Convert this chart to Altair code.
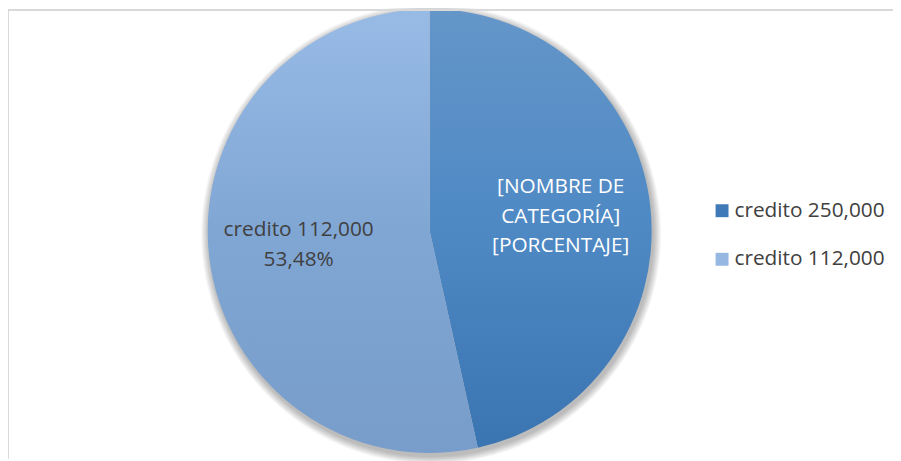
import math
import altair as alt
import pandas as pd

categories = ["credito 250,000", "credito 112,000"]
percentages = [46.52, 53.48]
labels = ["[NOMBRE DE\nCATEGORÍA]\n[PORCENTAJE]", "credito 112,000\n53,48%"]
order = [0, 1]

df = pd.DataFrame({"category": categories, "pct": percentages, "label": labels, "order": order})

W, H = 893, 453
CX, CY = 425.5, 223
R = 224
FONT = "Open Sans"
TEXT_GRAY = "#404040"
LINE_H = 30
legend_colors = ["#3f79b7", "#95b7e1"]

gradients = {
    "credito 250,000": alt.Gradient(
        gradient="linear", x1=0, x2=0, y1=0, y2=1,
        stops=[alt.GradientStop(color="#6496c9", offset=0),
               alt.GradientStop(color="#4e89c4", offset=0.5),
               alt.GradientStop(color="#3a75b2", offset=1)]),
    "credito 112,000": alt.Gradient(
        gradient="linear", x1=0, x2=0, y1=0, y2=1,
        stops=[alt.GradientStop(color="#98bbe6", offset=0),
               alt.GradientStop(color="#80a6d4", offset=0.5),
               alt.GradientStop(color="#789dcb", offset=1)]),
}
label_colors = {"credito 250,000": "#ffffff", "credito 112,000": TEXT_GRAY}

theta_scale = alt.Scale(domain=[0, 100], range=[0, 2 * math.pi])

base = (
    alt.Chart(df)
    .transform_window(end="sum(pct)", sort=[alt.SortField("order")], frame=[None, 0])
    .transform_calculate(start="datum.end - datum.pct")
    .transform_calculate(mid="(datum.start + datum.end) / 2")
)

layers = []

# soft shadow
for k in range(8, 0, -1):
    layers.append(
        base.transform_filter("datum.order == 0")
        .mark_arc(radius=R + k, color="#000000", opacity=0.035)
        .encode(
            theta=alt.value(0), theta2=alt.value(2 * math.pi),
            x=alt.value(CX + 1.5), y=alt.value(CY + 3),
        )
    )

for cat in categories:
    layers.append(
        base.transform_filter(alt.datum.category == cat)
        .mark_arc(radius=R, fill=gradients[cat], stroke=None)
        .encode(
            theta=alt.Theta("start:Q", scale=theta_scale),
            theta2="end:Q",
            x=alt.value(CX), y=alt.value(CY),
        )
    )

for cat, lab in zip(categories, labels):
    n_lines = lab.count("\n") + 1
    layers.append(
        base.transform_filter(alt.datum.category == cat)
        .mark_text(font=FONT, fontSize=21, lineHeight=LINE_H, lineBreak="\n",
                   color=label_colors[cat], align="center", baseline="middle", radius=133,
                   dy=-(n_lines - 1) * LINE_H / 2)
        .encode(
            theta=alt.Theta("mid:Q", scale=theta_scale),
            text="label:N",
            x=alt.value(CX), y=alt.value(CY),
        )
    )

# legend carrier
layers.append(
    base.mark_square(opacity=0, size=144)
    .encode(
        x=alt.value(-50), y=alt.value(-50),
        color=alt.Color(
            "category:N",
            scale=alt.Scale(domain=categories, range=legend_colors),
            sort=categories,
            legend=alt.Legend(
                orient="none", legendX=710, legendY=192, title=None,
                symbolType="square", symbolSize=170, symbolOpacity=1, symbolStrokeWidth=0,
                labelFont=FONT, labelFontSize=21, labelColor=TEXT_GRAY,
                rowPadding=27, labelOffset=2,
            ),
        ),
    )
)

# frame
layers.append(
    base.transform_filter("datum.order == 0").mark_rule(color="#d9d9d9", strokeWidth=2)
    .encode(x=alt.value(0), y=alt.value(0), y2=alt.value(H))
)
layers.append(
    base.transform_filter("datum.order == 0").mark_rule(color="#d9d9d9", strokeWidth=2)
    .encode(x=alt.value(0), x2=alt.value(W), y=alt.value(0))
)

chart = (
    alt.layer(*layers)
    .properties(width=W, height=H, padding=0, autosize=alt.AutoSizeParams(type="none"))
    .configure_view(stroke=None)
)

chart.save("out.html", embed_options={"renderer": "svg", "actions": False})
